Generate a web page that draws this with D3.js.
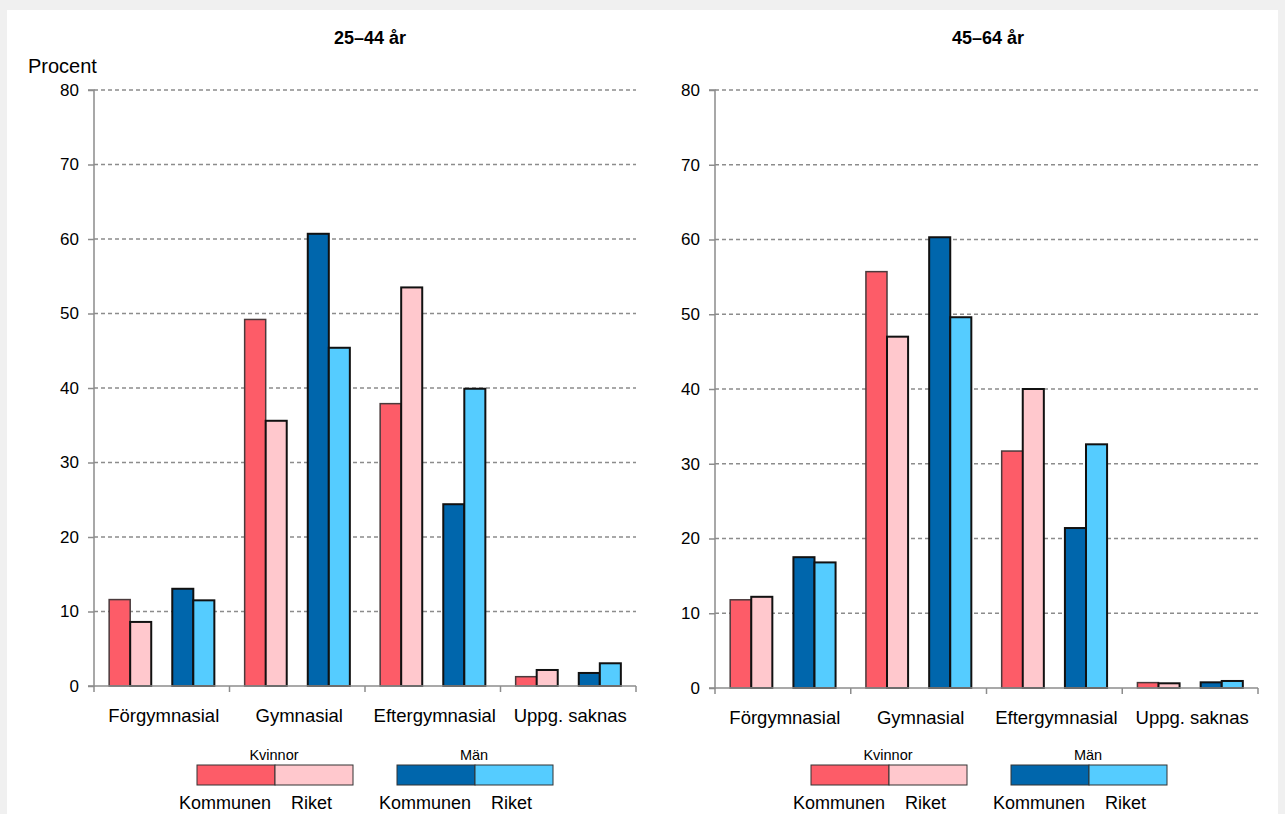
<!DOCTYPE html>
<html>
<head>
<meta charset="utf-8">
<script src="https://cdn.jsdelivr.net/npm/d3@7/dist/d3.min.js"></script>
<style>
  html, body { margin: 0; padding: 0; background: #f0f0f0; }
  svg { display: block; }
  text { font-family: "Liberation Sans", Arial, sans-serif; fill: #000; }
</style>
</head>
<body>
<svg id="chart" width="1285" height="814"></svg>
<script>
// ---- data ----
const categories = ["Förgymnasial", "Gymnasial", "Eftergymnasial", "Uppg. saknas"];
const seriesKeys = ["Kvinnor Kommunen", "Kvinnor Riket", "", "Män Kommunen", "Män Riket"];
const seriesColors = ["#fd5c68", "#ffc8cd", "none", "#0066ac", "#55ccff"];
const panelTitles = ["25–44 år", "45–64 år"];
const kvinnorKommunen_25_44 = [11.6, 49.2, 37.9, 1.25];
const kvinnorRiket_25_44 = [8.6, 35.6, 53.5, 2.15];
const manKommunen_25_44 = [13.05, 60.7, 24.4, 1.75];
const manRiket_25_44 = [11.5, 45.4, 39.9, 3.05];
const kvinnorKommunen_45_64 = [11.8, 55.7, 31.7, 0.72];
const kvinnorRiket_45_64 = [12.2, 47.0, 40.0, 0.63];
const manKommunen_45_64 = [17.5, 60.3, 21.4, 0.76];
const manRiket_45_64 = [16.8, 49.6, 32.6, 0.94];
const yTicks = [0, 10, 20, 30, 40, 50, 60, 70, 80];
const legendGroups = ["Kvinnor", "Män"];
const legendSubLabels = ["Kommunen", "Riket"];

const panels = [
  { title: panelTitles[0], x0: 94, x1: 636, y0: 686, y1: 90, titleX: 370, showUnit: true,
    series: [kvinnorKommunen_25_44, kvinnorRiket_25_44, null, manKommunen_25_44, manRiket_25_44],
    legendX: [197, 397] },
  { title: panelTitles[1], x0: 715, x1: 1258, y0: 688, y1: 90, titleX: 988, showUnit: false,
    series: [kvinnorKommunen_45_64, kvinnorRiket_45_64, null, manKommunen_45_64, manRiket_45_64],
    legendX: [811, 1011] }
];

const svg = d3.select("#chart");
svg.append("rect").attr("x", 7).attr("y", 10).attr("width", 1271).attr("height", 804).attr("fill", "#fff");

const strokeColors = ["#4a3a3c", "#111", "none", "#111", "#111"];
const strokeWidths = [1.5, 2, 0, 2, 2];

panels.forEach(p => {
  const g = svg.append("g");
  const y = d3.scaleLinear().domain([0, 80]).range([p.y0, p.y1]);
  const x = d3.scaleBand().domain(categories).range([p.x0, p.x1]).padding(0);
  const inner = d3.scaleBand().domain(d3.range(seriesKeys.length))
    .range([0, x.bandwidth()]).paddingInner(0).paddingOuter(0.72);

  // gridlines
  g.append("g").selectAll("line").data(yTicks.filter(t => t > 0)).join("line")
    .attr("x1", p.x0).attr("x2", p.x1)
    .attr("y1", d => y(d)).attr("y2", d => y(d))
    .attr("stroke", "#8c8c8c").attr("stroke-width", 1.3).attr("stroke-dasharray", "4,3");

  // y axis
  const ya = d3.axisLeft(y).tickValues(yTicks).tickSize(6).tickPadding(9).tickFormat(d3.format("d"));
  const yag = g.append("g").attr("transform", `translate(${p.x0},0)`).call(ya);
  yag.select(".domain").attr("stroke", "#8c8c8c").attr("stroke-width", 1.5).attr("d", `M-6,${p.y0}H0V${p.y1}H-6`);
  yag.selectAll(".tick line").attr("stroke", "#8c8c8c").attr("stroke-width", 1.5);
  yag.selectAll(".tick text").style("font-size", "17px").style("font-family", "Liberation Sans, Arial, sans-serif").attr("fill", "#000");

  // bars
  categories.forEach((c, ci) => {
    p.series.forEach((s, si) => {
      if (!s) return;
      const v = s[ci];
      g.append("rect")
        .attr("x", x(c) + inner(si))
        .attr("y", y(v))
        .attr("width", inner.bandwidth())
        .attr("height", y(0) - y(v))
        .attr("fill", seriesColors[si])
        .attr("stroke", strokeColors[si])
        .attr("stroke-width", strokeWidths[si]);
    });
  });

  // x axis
  const xag = g.append("g").attr("transform", `translate(0,${p.y0})`);
  xag.append("line").attr("x1", p.x0).attr("x2", p.x1).attr("y1", 0).attr("y2", 0)
    .attr("stroke", "#8c8c8c").attr("stroke-width", 1.5);
  const bounds = categories.map(c => x(c)).concat([p.x1]);
  xag.selectAll("line.t").data(bounds).join("line").attr("class", "t")
    .attr("x1", d => d).attr("x2", d => d).attr("y1", 0).attr("y2", 6)
    .attr("stroke", "#8c8c8c").attr("stroke-width", 1.5);
  xag.selectAll("text").data(categories).join("text")
    .attr("x", d => x(d) + x.bandwidth() / 2 + 2).attr("y", 36)
    .attr("text-anchor", "middle").style("font-size", "18.5px").text(d => d);

  // title
  g.append("text").attr("x", p.titleX).attr("y", 44).attr("text-anchor", "middle")
    .style("font-size", "18px").style("font-weight", "bold").text(p.title);
  if (p.showUnit) {
    g.append("text").attr("x", 28).attr("y", 73).style("font-size", "20px").text("Procent");
  }

  // legend
  legendGroups.forEach((lg, li) => {
    const lx = p.legendX[li];
    const cols = li === 0 ? [seriesColors[0], seriesColors[1]] : [seriesColors[3], seriesColors[4]];
    const lscale = d3.scaleBand().domain([0, 1]).range([lx, lx + 156]);
    g.append("text").attr("x", lx + 77).attr("y", 760).attr("text-anchor", "middle")
      .style("font-size", "14.5px").text(lg);
    [0, 1].forEach(k => {
      g.append("rect").attr("x", lscale(k)).attr("y", 765).attr("width", lscale.bandwidth()).attr("height", 20)
        .attr("fill", cols[k]).attr("stroke", "#333").attr("stroke-width", 1);
    });
    g.append("text").attr("x", lx - 18).attr("y", 809).style("font-size", "18px").text(legendSubLabels[0]);
    g.append("text").attr("x", lx + 94).attr("y", 809).style("font-size", "18px").text(legendSubLabels[1]);
  });
});
</script>
</body>
</html>
